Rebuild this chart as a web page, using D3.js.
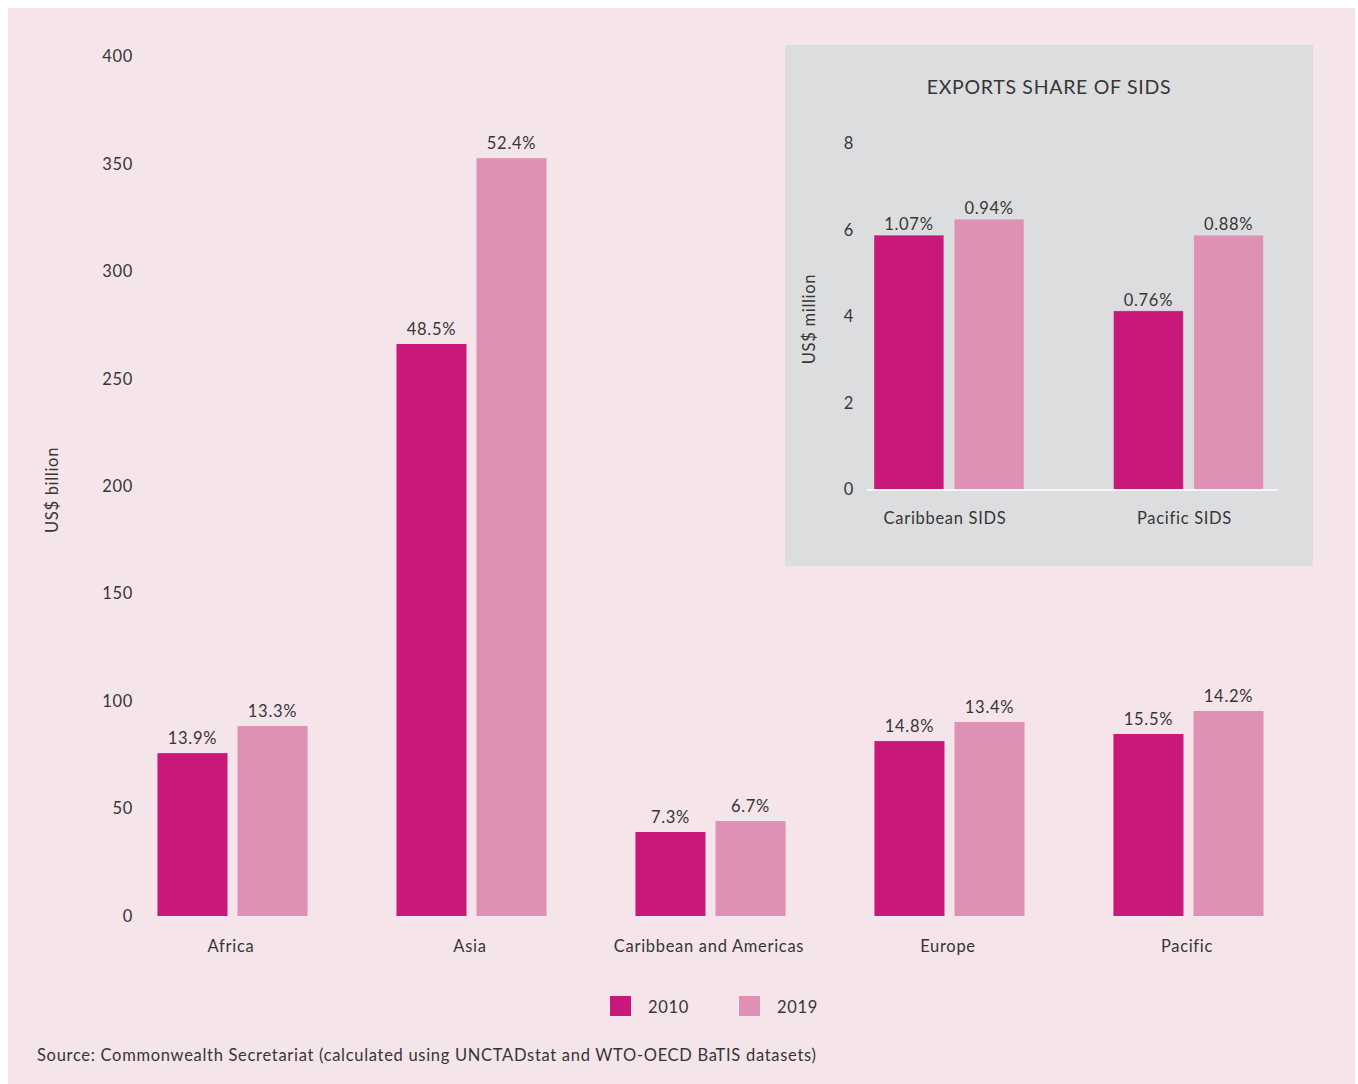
<!DOCTYPE html>
<html>
<head>
<meta charset="utf-8">
<script src="https://cdn.jsdelivr.net/npm/d3@7/dist/d3.min.js"></script>
<style>
  html, body { margin: 0; padding: 0; background: #ffffff; }
  svg { display: block; }
  text { font-family: Lato, "Open Sans", sans-serif; font-weight: 400; fill: #363636; letter-spacing: 0.7px; }
</style>
</head>
<body>
<svg id="chart" width="1358" height="1084"></svg>
<script>
// Services exports by SIDS region, US$ billion
const regions = ["Africa", "Asia", "Caribbean and Americas", "Europe", "Pacific"];
const years = ["2010", "2019"];
const values2010 = [75.8, 266.2, 39.1, 81.4, 84.7];
const values2019 = [88.4, 352.7, 44.2, 90.3, 95.4];
const shares2010 = ["13.9%", "48.5%", "7.3%", "14.8%", "15.5%"];
const shares2019 = ["13.3%", "52.4%", "6.7%", "13.4%", "14.2%"];
const yTicks = [0, 50, 100, 150, 200, 250, 300, 350, 400];

// Inset: exports share of SIDS, US$ million
const sidsGroups = ["Caribbean SIDS", "Pacific SIDS"];
const sids2010 = [5.88, 4.13];
const sids2019 = [6.25, 5.88];
const sidsShare2010 = ["1.07%", "0.76%"];
const sidsShare2019 = ["0.94%", "0.88%"];
const insetTicks = [0, 2, 4, 6, 8];

const colors = { "2010": "#c8197b", "2019": "#de91b5" };
const FONT = 16.5;

const svg = d3.select("#chart");

// page panel
svg.append("rect").attr("x", 8).attr("y", 8).attr("width", 1347).attr("height", 1076)
  .attr("fill", "#f5e4ea");

function styleAxisText(sel) {
  sel.selectAll("text").attr("font-size", FONT).attr("font-family", null)
    .attr("fill", "#363636");
}

// ---------- main chart ----------
const y = d3.scaleLinear().domain([0, 400]).range([916, 56.5]);
const x0 = d3.scaleBand().domain(regions).range([113, 1308])
  .paddingInner(0.372).paddingOuter(0.186);
const x1 = d3.scaleBand().domain(years).range([0, x0.bandwidth()]).paddingInner(0.125);

const yAxis = svg.append("g").attr("transform", "translate(133,0)")
  .call(d3.axisLeft(y).tickValues(yTicks).tickSize(0).tickPadding(0));
yAxis.select(".domain").remove();
styleAxisText(yAxis);

svg.append("text").attr("transform", "translate(53.5,490) rotate(-90)")
  .attr("text-anchor", "middle").attr("dominant-baseline", "middle")
  .attr("font-size", FONT).text("US$ billion");

const rows = regions.map((r, i) => ({
  region: r,
  bars: [
    { year: "2010", value: values2010[i], label: shares2010[i] },
    { year: "2019", value: values2019[i], label: shares2019[i] }
  ]
}));

const groups = svg.append("g").selectAll("g").data(rows).join("g")
  .attr("transform", d => `translate(${x0(d.region)},0)`);

groups.selectAll("rect").data(d => d.bars).join("rect")
  .attr("x", d => x1(d.year)).attr("width", x1.bandwidth())
  .attr("y", d => y(d.value)).attr("height", d => y(0) - y(d.value))
  .attr("fill", d => colors[d.year]);

groups.selectAll("text.val").data(d => d.bars).join("text").attr("class", "val")
  .attr("x", d => x1(d.year) + x1.bandwidth() / 2)
  .attr("y", d => y(d.value) - 13.5)
  .attr("text-anchor", "middle").attr("dominant-baseline", "middle")
  .attr("font-size", FONT).text(d => d.label);

const xAxis = svg.append("g").attr("transform", "translate(-1.5,947.5)")
  .call(d3.axisBottom(x0).tickSize(0).tickPadding(0));
xAxis.select(".domain").remove();
styleAxisText(xAxis);
xAxis.selectAll("text").attr("dy", null).attr("dominant-baseline", "middle");

// legend
const legend = svg.append("g").selectAll("g").data(years).join("g")
  .attr("transform", (d, i) => `translate(${610 + i * 129},996)`);
legend.append("rect").attr("width", 21).attr("height", 20).attr("fill", d => colors[d]);
legend.append("text").attr("x", 38).attr("y", 12.5).attr("dominant-baseline", "middle")
  .attr("font-size", FONT).text(d => d);

// source
svg.append("text").attr("x", 37).attr("y", 1056.5).attr("dominant-baseline", "middle")
  .attr("font-size", FONT)
  .text("Source: Commonwealth Secretariat (calculated using UNCTADstat and WTO-OECD BaTIS datasets)");

// ---------- inset ----------
const inset = svg.append("g");
inset.append("rect").attr("x", 785).attr("y", 45).attr("width", 528).attr("height", 521)
  .attr("fill", "#dcdddf");

inset.append("text").attr("x", 1049).attr("y", 89).attr("text-anchor", "middle")
  .attr("dominant-baseline", "middle").attr("font-size", 19.5).text("EXPORTS SHARE OF SIDS");

const iy = d3.scaleLinear().domain([0, 8]).range([489.5, 143.5]);
const ix0 = d3.scaleBand().domain(sidsGroups).range([829.25, 1308.25])
  .paddingInner(0.374).paddingOuter(0.187);
const ix1 = d3.scaleBand().domain(years).range([0, ix0.bandwidth()]).paddingInner(0.13);

const iyAxis = inset.append("g").attr("transform", "translate(854,0)")
  .call(d3.axisLeft(iy).tickValues(insetTicks).tickSize(0).tickPadding(0));
iyAxis.select(".domain").remove();
styleAxisText(iyAxis);

inset.append("text").attr("transform", "translate(810.5,319) rotate(-90)")
  .attr("text-anchor", "middle").attr("dominant-baseline", "middle")
  .attr("font-size", FONT).text("US$ million");

const insetRows = sidsGroups.map((g, i) => ({
  group: g,
  bars: [
    { year: "2010", value: sids2010[i], label: sidsShare2010[i] },
    { year: "2019", value: sids2019[i], label: sidsShare2019[i] }
  ]
}));

const igroups = inset.append("g").selectAll("g").data(insetRows).join("g")
  .attr("transform", d => `translate(${ix0(d.group)},0)`);

igroups.selectAll("rect").data(d => d.bars).join("rect")
  .attr("x", d => ix1(d.year)).attr("width", ix1.bandwidth())
  .attr("y", d => iy(d.value)).attr("height", d => iy(0) - iy(d.value))
  .attr("fill", d => colors[d.year])
  .attr("stroke", "#ffffff").attr("stroke-opacity", 0.25).attr("stroke-width", 1);

igroups.selectAll("text.val").data(d => d.bars).join("text").attr("class", "val")
  .attr("x", d => ix1(d.year) + ix1.bandwidth() / 2)
  .attr("y", d => iy(d.value) - 9)
  .attr("text-anchor", "middle").attr("dominant-baseline", "middle")
  .attr("font-size", FONT).text(d => d.label);

// baseline
inset.append("line").attr("x1", 867).attr("x2", 1278)
  .attr("y1", iy(0) + 0.5).attr("y2", iy(0) + 0.5)
  .attr("stroke", "#ffffff").attr("stroke-width", 1.5);

const ixAxis = inset.append("g").attr("transform", "translate(-4,519.5)")
  .call(d3.axisBottom(ix0).tickSize(0).tickPadding(0));
ixAxis.select(".domain").remove();
styleAxisText(ixAxis);
ixAxis.selectAll("text").attr("dy", null).attr("dominant-baseline", "middle");
</script>
</body>
</html>
